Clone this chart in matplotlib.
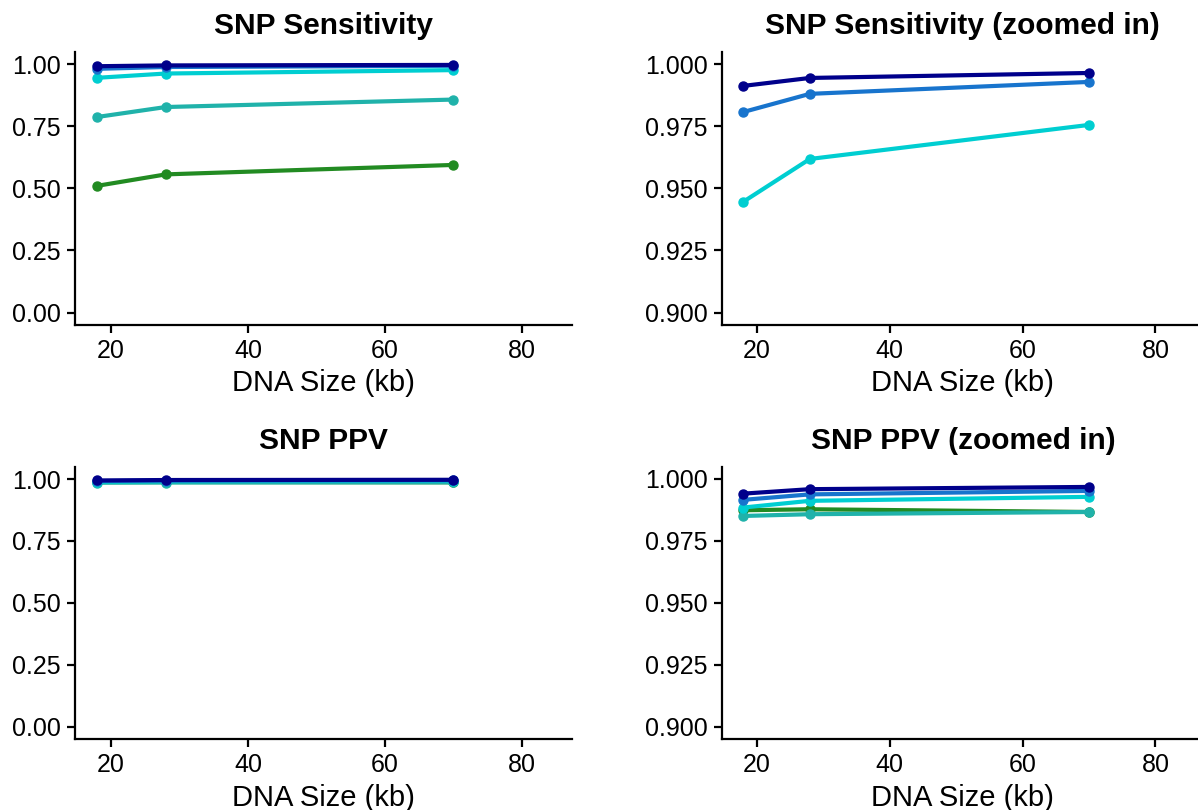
import matplotlib
matplotlib.use("Agg")
import matplotlib.pyplot as plt

plt.rcParams["font.family"] = ["Liberation Sans", "DejaVu Sans"]

# DNA sizes (kb)
sizes = [18, 28, 70]

# series, drawn back to front
series_names = ["forestgreen", "lightseagreen", "darkturquoise", "dodgerblue3", "darkblue"]
series_colors = ["#228B22", "#20B2AA", "#00CED1", "#1874CD", "#00008B"]

sensitivity = [
    [0.510, 0.556, 0.594],
    [0.787, 0.827, 0.857],
    [0.9446, 0.9618, 0.9755],
    [0.9807, 0.9880, 0.9928],
    [0.9912, 0.9944, 0.9964],
]

ppv = [
    [0.9874, 0.9878, 0.9867],
    [0.9851, 0.9858, 0.9867],
    [0.9885, 0.9912, 0.9928],
    [0.9916, 0.9938, 0.9952],
    [0.9941, 0.9959, 0.9968],
]

full_ticks = [0.00, 0.25, 0.50, 0.75, 1.00]
zoom_ticks = [0.900, 0.925, 0.950, 0.975, 1.000]
x_ticks = [20, 40, 60, 80]

W, H = 1198, 810
fig = plt.figure(figsize=(W / 100, H / 100), dpi=100)


def px_axes(left, top, right, bottom):
    return fig.add_axes([left / W, 1 - bottom / H, (right - left) / W, (bottom - top) / H])


def draw_panel(ax, data, title, yticks, ylim, fmt):
    for vals, col in zip(data, series_colors):
        ax.plot(sizes, vals, color=col, lw=3.0, marker="o", ms=6.5, solid_capstyle="butt")
    ax.set_xlim(14.74, 87.3)
    ax.set_ylim(*ylim)
    ax.set_xticks(x_ticks)
    ax.set_yticks(yticks)
    ax.set_yticklabels([fmt.format(v) for v in yticks])
    for s in ["top", "right"]:
        ax.spines[s].set_visible(False)
    for s in ["left", "bottom"]:
        ax.spines[s].set_linewidth(1.6)
    ax.tick_params(axis="both", length=6, width=1.6, labelsize=18, pad=4, colors="black")
    ax.set_title(title, fontsize=21.5, fontweight="bold", pad=13)
    ax.set_xlabel("DNA Size (kb)", fontsize=21, labelpad=4.5)


ax1 = px_axes(75, 51.6, 571.7, 325)
draw_panel(ax1, sensitivity, "SNP Sensitivity", full_ticks, (-0.05, 1.05), "{:.2f}")

ax2 = px_axes(721.7, 51.6, 1204, 325)
draw_panel(ax2, sensitivity, "SNP Sensitivity (zoomed in)", zoom_ticks, (0.895, 1.005), "{:.3f}")

ax3 = px_axes(75, 466.6, 571.7, 739.4)
draw_panel(ax3, ppv, "SNP PPV", full_ticks, (-0.05, 1.05), "{:.2f}")

ax4 = px_axes(721.7, 466.6, 1204, 739.4)
draw_panel(ax4, ppv, "SNP PPV (zoomed in)", zoom_ticks, (0.895, 1.005), "{:.3f}")

fig.savefig("out.png", dpi=100)
